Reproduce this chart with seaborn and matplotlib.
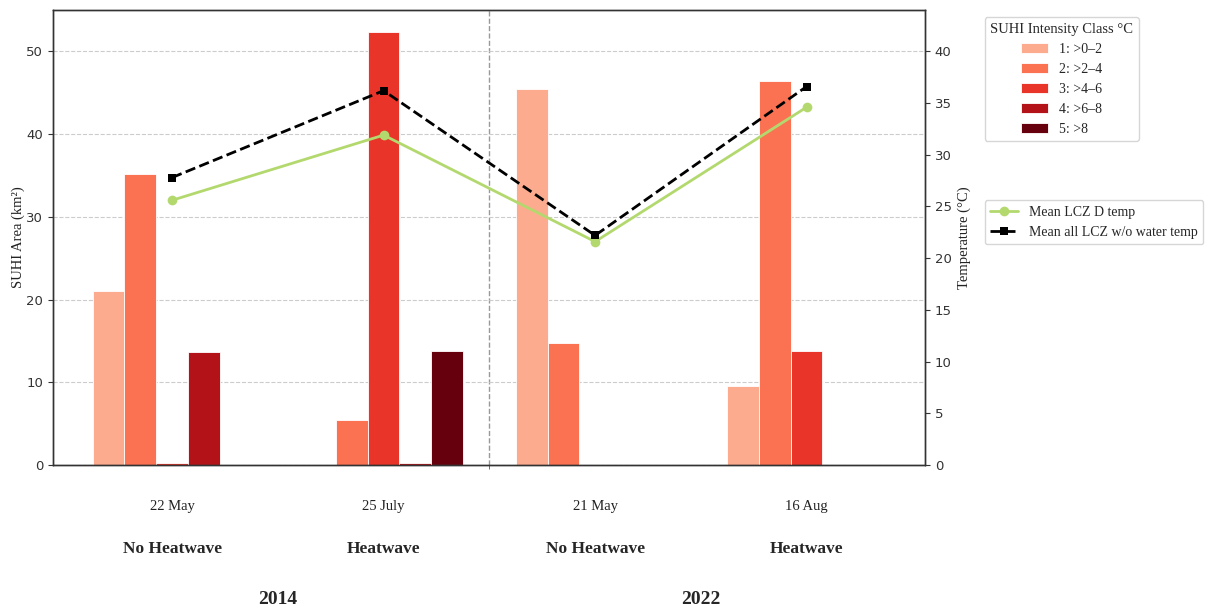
import numpy as np
import pandas as pd
import matplotlib
matplotlib.use("Agg")
import matplotlib.pyplot as plt
import matplotlib.transforms as mtransforms
from matplotlib.patches import Patch
from matplotlib.lines import Line2D
import seaborn as sns

# ---- data ----
dates = ["22 May", "25 July", "21 May", "16 Aug"]
conditions = ["No Heatwave", "Heatwave", "No Heatwave", "Heatwave"]
years = ["2014", "2022"]
class_labels = ["1: >0–2", "2: >2–4", "3: >4–6", "4: >6–8", "5: >8"]

class1_area = [21.0, 0.0, 45.4, 9.5]
class2_area = [35.2, 5.5, 14.7, 46.4]
class3_area = [0.3, 52.4, 0.0, 13.8]
class4_area = [13.7, 0.3, 0.0, 0.0]
class5_area = [0.0, 13.8, 0.0, 0.0]

temp_lcz_d = [25.6, 31.9, 21.6, 34.6]
temp_all_no_water = [27.8, 36.2, 22.2, 36.6]

# ---- long table for seaborn ----
areas = [class1_area, class2_area, class3_area, class4_area, class5_area]
rows = []
for lab, vals in zip(class_labels, areas):
    for d, v in zip(dates, vals):
        rows.append({"date": d, "cls": lab, "area": v})
df = pd.DataFrame(rows)

sns.set_style("ticks")
plt.rcParams["font.family"] = ["DejaVu Sans"]
serif = ["Liberation Serif", "DejaVu Serif"]

fig = plt.figure(figsize=(12.1, 6.1), dpi=100)
ax = fig.add_axes([0.0438, 0.2377, 0.7207, 0.7459])

colors = [plt.cm.Reds(v) for v in np.linspace(0.3, 1.0, 5)]
sns.barplot(data=df, x="date", y="area", hue="cls", order=dates,
            hue_order=class_labels, palette=colors, width=0.75,
            edgecolor="white", linewidth=0.6, saturation=1, ax=ax,
            legend=False)

ax.set_xlim(-0.563, 3.56)
ax.set_ylim(0, 55)
ax.set_yticks([0, 10, 20, 30, 40, 50])
ax.set_xticks([])
ax.set_xticks([1.5], minor=True)
ax.tick_params(axis="x", which="minor", length=3, color="#555555")
ax.set_xlabel("")
ax.set_ylabel("SUHI Area (km²)", fontsize=10.5, family=serif,
              color="#222222", labelpad=1)
ax.yaxis.grid(True, linestyle="--", color="#cccccc", linewidth=0.8)
ax.set_axisbelow(True)
ax.axvline(1.5, color="#999999", linestyle="--", linewidth=1.0, zorder=0)
ax.tick_params(axis="y", labelsize=9.5, colors="#333333")

# ---- temperatures on secondary axis ----
ax2 = ax.twinx()
xpos = np.arange(len(dates))
sns.lineplot(x=xpos, y=temp_lcz_d, ax=ax2, color="#b3d96e", linewidth=2,
             marker="o", markersize=7, markeredgewidth=0, sort=False,
             label="Mean LCZ D temp")
sns.lineplot(x=xpos, y=temp_all_no_water, ax=ax2, color="black",
             linewidth=2, linestyle="--", marker="s", markersize=6,
             markeredgewidth=0, sort=False,
             label="Mean all LCZ w/o water temp")
ax2.set_ylim(0, 44)
ax2.set_yticks(np.arange(0, 45, 5))
ax2.set_ylabel("Temperature (°C)", fontsize=10.5, family=serif,
               color="#222222")
ax2.tick_params(axis="y", labelsize=9.5, colors="#333333")
ax2.set_xlim(-0.563, 3.56)
if ax2.get_legend() is not None:
    ax2.get_legend().remove()

for a in (ax, ax2):
    for s in a.spines.values():
        s.set_visible(True)
        s.set_color("#333333")
        s.set_linewidth(1.0)

# ---- category annotations below the axis ----
trans = mtransforms.blended_transform_factory(ax.transData, fig.transFigure)
for i, (d, c) in enumerate(zip(dates, conditions)):
    ax.text(i, 0.1689, d, transform=trans, ha="center", va="center",
            fontsize=10.5, family=serif, color="#222222")
    ax.text(i, 0.100, c, transform=trans, ha="center", va="center",
            fontsize=12.5, fontweight="bold", family=serif)
for i, y in enumerate(years):
    ax.text(0.5 + 2 * i, 0.0164, y, transform=trans, ha="center",
            va="center", fontsize=14, fontweight="bold", family=serif)

# ---- legends ----
bar_handles = [Patch(facecolor=c, edgecolor="white", linewidth=0.6)
               for c in colors]
leg1 = fig.legend(bar_handles, class_labels, title="SUHI Intensity Class °C",
                  loc="upper left", bbox_to_anchor=(0.808, 0.983),
                  prop={"family": serif, "size": 10},
                  title_fontproperties={"family": serif, "size": 10.5},
                  frameon=True, edgecolor="#cccccc")
line_handles = [
    Line2D([], [], color="#b3d96e", linewidth=2, marker="o", markersize=7,
           markeredgewidth=0),
    Line2D([], [], color="black", linewidth=2, linestyle="--", marker="s",
           markersize=6, markeredgewidth=0),
]
leg2 = fig.legend(line_handles, ["Mean LCZ D temp", "Mean all LCZ w/o water temp"],
                  loc="upper left", bbox_to_anchor=(0.808, 0.683),
                  prop={"family": serif, "size": 10},
                  frameon=True, edgecolor="#cccccc")

fig.savefig("out.png", dpi=100)
